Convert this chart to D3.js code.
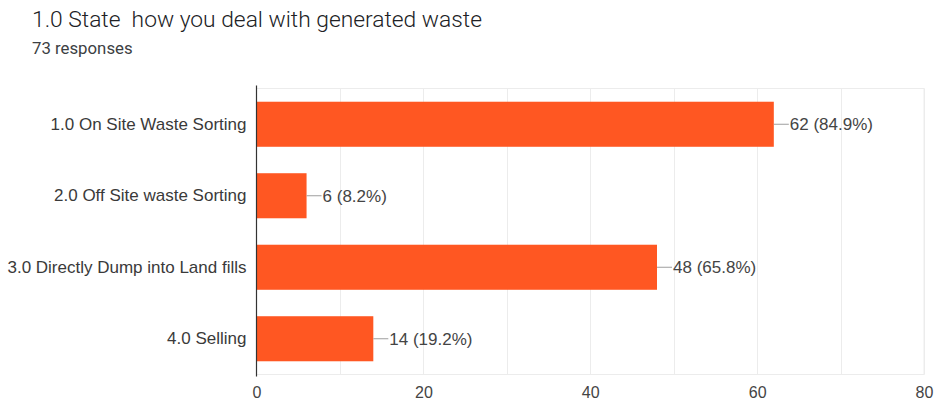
<!DOCTYPE html>
<html>
<head>
<meta charset="utf-8">
<script src="https://cdn.jsdelivr.net/npm/d3@7"></script>
<style>
  html, body { margin: 0; padding: 0; background: #fff; }
  svg { display: block; }
  text { white-space: pre; }
</style>
</head>
<body>
<svg id="chart" width="938" height="404"></svg>
<script>
// Survey question and response count
const title = "1.0 State  how you deal with generated waste";
const responses = 73;

// Answer options and the number of respondents that chose each
const categories = [
  "1.0 On Site Waste Sorting",
  "2.0 Off Site waste Sorting",
  "3.0 Directly Dump into Land fills",
  "4.0 Selling"
];
const counts = [62, 6, 48, 14];

// Axis ticks
const xTicks = [0, 20, 40, 60, 80];
const gridValues = [10, 20, 30, 40, 50, 60, 70, 80];

const svg = d3.select("#chart");
const plot = { left: 256.5, right: 924, top: 88.5, bottom: 374.5 };
const labelFont = "'Liberation Sans', Arial, sans-serif";

const x = d3.scaleLinear().domain([0, 80]).range([plot.left, plot.right]);
const y = d3.scaleBand()
  .domain(categories)
  .range([plot.top, plot.bottom])
  .paddingInner(0.37)
  .paddingOuter(0.185);

// Header
svg.append("text")
  .attr("x", 32).attr("y", 27)
  .attr("font-family", "Roboto, 'Noto Sans', sans-serif")
  .attr("font-size", 22.8)
  .attr("font-weight", 300)
  .attr("fill", "#202124")
  .text(title);

svg.append("text")
  .attr("x", 32).attr("y", 54)
  .attr("font-family", "Roboto, 'Noto Sans', sans-serif")
  .attr("font-size", 16.8)
  .attr("fill", "#3c4043")
  .text(responses + " responses");

// Plot frame and vertical gridlines
const g = svg.append("g");
g.append("rect")
  .attr("x", plot.left).attr("y", plot.top)
  .attr("width", plot.right - plot.left)
  .attr("height", plot.bottom - plot.top)
  .attr("fill", "none")
  .attr("stroke", "#ececec")
  .attr("stroke-width", 1);

g.selectAll("line.grid")
  .data(gridValues)
  .join("line")
  .attr("class", "grid")
  .attr("x1", d => Math.round(x(d)) + 0.5)
  .attr("x2", d => Math.round(x(d)) + 0.5)
  .attr("y1", plot.top).attr("y2", plot.bottom)
  .attr("stroke", "#ececec")
  .attr("stroke-width", 1);

// Bars
const rows = categories.map((c, i) => ({ category: c, count: counts[i] }));

g.selectAll("rect.bar")
  .data(rows)
  .join("rect")
  .attr("class", "bar")
  .attr("x", x(0))
  .attr("y", d => y(d.category))
  .attr("width", d => x(d.count) - x(0))
  .attr("height", y.bandwidth())
  .attr("fill", "#ff5722");

// Leader lines and value labels
g.selectAll("line.leader")
  .data(rows)
  .join("line")
  .attr("class", "leader")
  .attr("x1", d => x(d.count))
  .attr("x2", d => x(d.count) + 15)
  .attr("y1", d => y(d.category) + y.bandwidth() / 2)
  .attr("y2", d => y(d.category) + y.bandwidth() / 2)
  .attr("stroke", "#9e9e9e")
  .attr("stroke-width", 1);

g.selectAll("text.value")
  .data(rows)
  .join("text")
  .attr("class", "value")
  .attr("x", d => x(d.count) + 16)
  .attr("y", d => y(d.category) + y.bandwidth() / 2)
  .attr("dy", "0.35em")
  .attr("font-family", labelFont)
  .attr("font-size", 17)
  .attr("fill", "#444")
  .text(d => `${d.count} (${(d.count / responses * 100).toFixed(1)}%)`);

// Category axis
const yAxis = g.append("g")
  .attr("transform", `translate(${plot.left},0)`)
  .call(d3.axisLeft(y).tickSize(0).tickPadding(10));
yAxis.select(".domain").remove();
yAxis.selectAll("text")
  .attr("font-family", labelFont)
  .attr("font-size", 17)
  .attr("fill", "#3a3a3a");

g.append("line")
  .attr("x1", plot.left).attr("x2", plot.left)
  .attr("y1", plot.top - 3).attr("y2", plot.bottom + 2)
  .attr("stroke", "#333")
  .attr("stroke-width", 1.2);

// Value axis labels
const xAxis = g.append("g")
  .attr("transform", `translate(0,${plot.bottom})`)
  .call(d3.axisBottom(x).tickValues(xTicks).tickSize(0).tickPadding(12));
xAxis.select(".domain").remove();
xAxis.selectAll("text")
  .attr("font-family", labelFont)
  .attr("font-size", 16)
  .attr("fill", "#444");
</script>
</body>
</html>
